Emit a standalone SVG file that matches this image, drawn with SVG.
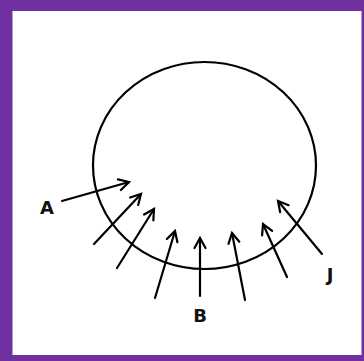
<svg xmlns="http://www.w3.org/2000/svg" width="364" height="361" viewBox="0 0 364 361">
<style>
.arr{stroke:#000;stroke-width:2.2;fill:none;stroke-linecap:round;marker-end:url(#head)}
.lbl{font-family:"DejaVu Sans",Verdana,sans-serif;font-weight:bold;font-size:18px;fill:#111;text-anchor:middle}
</style>
<defs>
<marker id="head" markerUnits="userSpaceOnUse" markerWidth="20" markerHeight="20" viewBox="-12 -10 14 20" refX="0" refY="0" orient="auto">
<path d="M-10,-5.5 L0,0 L-10,5.5" fill="none" stroke="#000" stroke-width="2.2" stroke-linecap="round" stroke-linejoin="miter"/>
</marker>
</defs>
<rect x="0" y="0" width="364" height="361" fill="#7030a0"/>
<rect x="12.5" y="11" width="349" height="344" fill="#fff"/>
<g id="circle">
<ellipse cx="204.5" cy="165.5" rx="111.5" ry="103.5" fill="none" stroke="#000" stroke-width="2.2"/>
</g>
<g id="connectors">
<line class="arr" x1="62" y1="201" x2="129" y2="182"/>
<line class="arr" x1="94" y1="244" x2="141" y2="194"/>
<line class="arr" x1="117" y1="268" x2="154" y2="209"/>
<line class="arr" x1="155" y1="298" x2="175" y2="231"/>
<line class="arr" x1="200" y1="296" x2="200" y2="238"/>
<line class="arr" x1="245" y1="300" x2="232" y2="233"/>
<line class="arr" x1="287" y1="277" x2="263" y2="224"/>
<line class="arr" x1="322" y1="254" x2="278" y2="201"/>
</g>
<g id="label-A"><text class="lbl" x="47" y="214">A</text></g>
<g id="label-B"><text class="lbl" x="200" y="322">B</text></g>
<g id="label-J"><text class="lbl" x="330" y="281">J</text></g>
</svg>
